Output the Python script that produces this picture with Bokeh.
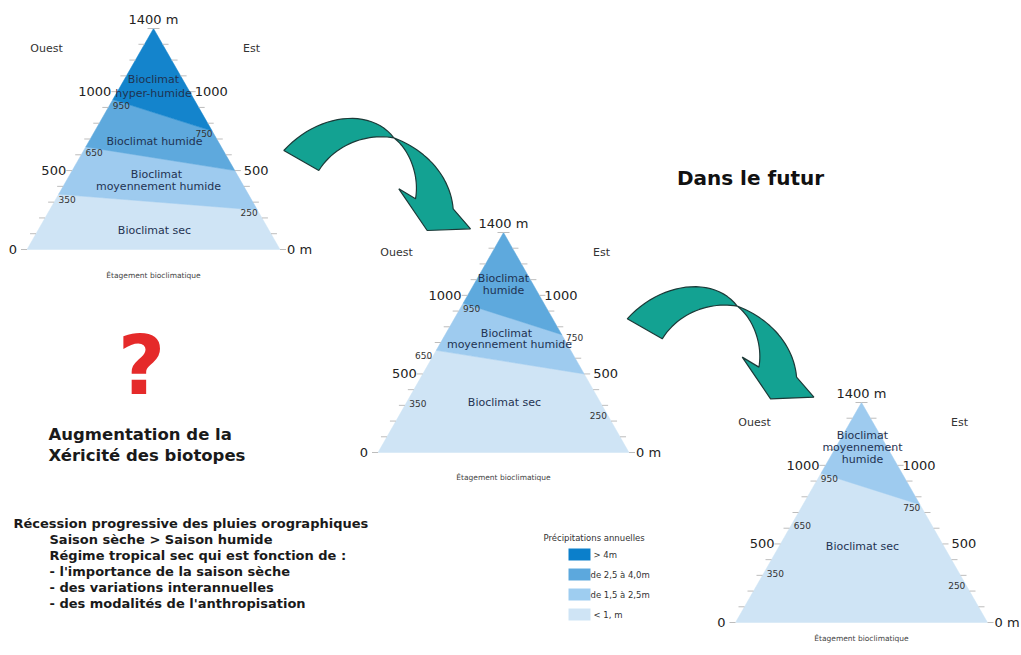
from bokeh.plotting import figure
from bokeh.models import Range1d, ColumnDataSource
from bokeh.core.properties import value
from bokeh.embed import file_html
from bokeh.resources import INLINE

# ---------------- data ----------------
ALT_MAX = 1400
TICK_ALTS = list(range(0, 1401, 100))
ZONE_NAMES = ["Bioclimat sec", "Bioclimat moyennement humide",
              "Bioclimat humide", "Bioclimat hyper-humide"]
ZONE_COLORS = ["#cfe4f5", "#9ecbef", "#5ea9dd", "#1484cc"]

# zone boundaries (m) on the west and east slopes, bottom to top
T1_WEST = [0, 350, 650, 950, 1400]
T1_EAST = [0, 250, 500, 750, 1400]
T1_ZONES = [0, 1, 2, 3]
T2_WEST = [0, 650, 950, 1400]
T2_EAST = [0, 500, 750, 1400]
T2_ZONES = [0, 1, 2]
T3_WEST = [0, 950, 1400]
T3_EAST = [0, 750, 1400]
T3_ZONES = [0, 1]

WEST_MARKS = [950, 650, 350]
EAST_MARKS = [750, 250]
MAJOR_MARKS = [1000, 500]

# zone label lines with the altitude (m) of each line
T1_LABELS = [("Bioclimat", 1077), ("hyper-humide", 988), ("Bioclimat humide", 684),
             ("Bioclimat", 475), ("moyennement humide", 399), ("Bioclimat sec", 120)]
T2_LABELS = [("Bioclimat", 1107), ("humide", 1031), ("Bioclimat", 757),
             ("moyennement humide", 687), ("Bioclimat sec", 318)]
T3_LABELS = [("Bioclimat", 1190), ("moyennement", 1114), ("humide", 1037),
             ("Bioclimat sec", 484)]

LEGEND_TITLE = "Précipitations annuelles"
LEGEND_LABELS = ["> 4m", "de 2,5 à 4,0m", "de 1,5 à 2,5m", "< 1, m"]
LEGEND_COLORS = ["#0b7fcb", "#5ca8dd", "#9ecdf0", "#cfe4f5"]

TEXT_BLOCK = ["Récession progressive des pluies orographiques",
              "Saison sèche > Saison humide",
              "Régime tropical sec qui est fonction de :",
              "- l'importance de la saison sèche",
              "- des variations interannuelles",
              "- des modalités de l'anthropisation"]

# ---------------- layout ----------------
TRIS = [
    dict(ax=153, ay=28, by=249, hw=126.5, west=T1_WEST, east=T1_EAST, zones=T1_ZONES,
         labels=T1_LABELS, lx=[153, 153, 154, 156, 158, 154], cap=275,
         w_in=[True, True, True], e_in=[True, True]),
    dict(ax=503, ay=232, by=452, hw=125.5, west=T2_WEST, east=T2_EAST, zones=T2_ZONES,
         labels=T2_LABELS, lx=[503, 503, 506, 509, 504], cap=477,
         w_in=[True, False, True], e_in=[False, True]),
    dict(ax=861, ay=402, by=622, hw=126, west=T3_WEST, east=T3_EAST, zones=T3_ZONES,
         labels=T3_LABELS, lx=[862, 862, 862, 862], cap=638,
         w_in=[True, True, True], e_in=[True, True]),
]

FONT = value("DejaVu Sans")

p = figure(width=1021, height=655, x_range=Range1d(0, 1021), y_range=Range1d(655, 0),
           output_backend="svg", toolbar_location=None, min_border=0)
p.axis.visible = False
p.grid.visible = False
p.outline_line_color = None
p.background_fill_color = "white"


def yalt(t, a):
    return t["by"] - (t["by"] - t["ay"]) * a / ALT_MAX


def xl(t, a):
    return t["ax"] - t["hw"] * (1 - a / ALT_MAX)


def xr(t, a):
    return t["ax"] + t["hw"] * (1 - a / ALT_MAX)


def txt(x, y, s, size, color="#222222", align="center", bold=False, baseline="middle"):
    p.text(x=[x], y=[y], text=[s], text_font=FONT, text_font_size=size,
           text_color=color, text_align=align, text_baseline=baseline,
           text_font_style="bold" if bold else "normal")


for t in TRIS:
    xs, ys, cs = [], [], []
    W, E = t["west"], t["east"]
    for i, z in enumerate(t["zones"]):
        wl, wu, el, eu = W[i], W[i + 1], E[i], E[i + 1]
        xs.append([xl(t, wl), xl(t, wu), xr(t, eu), xr(t, el)])
        ys.append([yalt(t, wl), yalt(t, wu), yalt(t, eu), yalt(t, el)])
        cs.append(ZONE_COLORS[z])
    p.patches(xs="xs", ys="ys", fill_color="cs", line_color="cs", line_width=0.5,
              source=ColumnDataSource(dict(xs=xs, ys=ys, cs=cs)))

    # ticks every 100 m
    x0 = [xl(t, a) for a in TICK_ALTS] + [xr(t, a) for a in TICK_ALTS]
    x1 = [xl(t, a) - 6 for a in TICK_ALTS] + [xr(t, a) + 6 for a in TICK_ALTS]
    yy = [yalt(t, a) for a in TICK_ALTS] * 2
    p.segment(x0=x0, y0=yy, x1=x1, y1=yy, line_color="#bdbdbd", line_width=1)

    # major labels
    txt(t["ax"], t["ay"] - 9, f"{ALT_MAX} m", "13px")
    for a in MAJOR_MARKS:
        txt(xl(t, a) - 6, yalt(t, a), str(a), "13px", align="right")
        txt(xr(t, a) + 5 if a == 1000 else xr(t, a) + 9, yalt(t, a), str(a), "13px", align="left")
    txt(xl(t, 0) - 10, t["by"], "0", "13px", align="right")
    txt(xr(t, 0) + 7, t["by"], "0 m", "13px", align="left")

    # minor labels
    for a, inside in zip(WEST_MARKS, t["w_in"]):
        aa = a - 35
        if inside:
            txt(xl(t, aa) + 3, yalt(t, aa), str(a), "9px", "#333333", align="left")
        else:
            txt(xl(t, aa) - 1, yalt(t, aa), str(a), "9px", "#333333", align="right")
    for a, inside in zip(EAST_MARKS, t["e_in"]):
        aa = a - 15
        if inside:
            txt(xr(t, aa) - 1, yalt(t, aa), str(a), "9px", "#333333", align="right")
        else:
            txt(xr(t, aa) + 3, yalt(t, aa), str(a), "9px", "#333333", align="left")

    # zone labels
    for (s, a), x in zip(t["labels"], t["lx"]):
        txt(x, yalt(t, a), s, "11px", "#1f3352")

    txt(t["ax"] - 107, t["ay"] + 20, "Ouest", "11px", "#333333")
    txt(t["ax"] + 98, t["ay"] + 20, "Est", "11px", "#333333")
    txt(t["ax"], t["cap"], "Étagement bioclimatique", "7.5px", "#444444")


# ---------------- arrows (twisted ribbon, built from bezier curves) ----------------
def cubic(p0, p1, p2, p3, n=24):
    pts = []
    for k in range(n + 1):
        s = k / n
        a, b, c, d = (1 - s) ** 3, 3 * s * (1 - s) ** 2, 3 * s * s * (1 - s), s ** 3
        pts.append((a * p0[0] + b * p1[0] + c * p2[0] + d * p3[0],
                    a * p0[1] + b * p1[1] + c * p2[1] + d * p3[1]))
    return pts


# shape in a local frame (1 unit = 1/3 px), tail top corner at (40,150)
C = (370, 112)
shape = []
shape += cubic((40, 150), (140, 40), (300, 20), C)
shape += cubic(C, (470, 150), (540, 230), (548, 325))
shape += [(600, 385), (470, 390), (385, 265), (435, 295)]
shape += cubic((435, 295), (447, 230), (420, 150), C)
shape += cubic(C, (290, 98), (195, 130), (145, 210))
ARROW_ORIGINS = [(270, 100), (613.4, 268.3)]
axs = [[ox + sx / 3 for sx, sy in shape] for ox, oy in ARROW_ORIGINS]
ays = [[oy + sy / 3 for sx, sy in shape] for ox, oy in ARROW_ORIGINS]
p.patches(xs=axs, ys=ays, fill_color="#13a292", line_color="#1c3a38", line_width=1.2)

# ---------------- free texts ----------------
txt(750, 177, "Dans le futur", "20px", "#111111", bold=True)
txt(141, 365, "?", "82px", "#e52a2a", bold=True)
txt(48, 434, "Augmentation de la", "16.5px", "#1a1a1a", align="left", bold=True)
txt(48, 455, "Xéricité des biotopes", "16.5px", "#1a1a1a", align="left", bold=True)
for i, s in enumerate(TEXT_BLOCK):
    txt(13 if i == 0 else 49, 523 + i * 16, s, "13px", "#1a1a1a", align="left", bold=True)

# legend
txt(543, 537, LEGEND_TITLE, "8.5px", "#333333", align="left")
for i, (lab, col) in enumerate(zip(LEGEND_LABELS, LEGEND_COLORS)):
    yc = 554 + 20 * i
    p.quad(left=[568], right=[590], top=[yc - 6], bottom=[yc + 6], fill_color=col, line_color=None)
    txt(590 if lab.startswith("de") else 593, yc, lab, "8.5px", "#333333", align="left")

open("out.html", "w").write(file_html(p, INLINE))
